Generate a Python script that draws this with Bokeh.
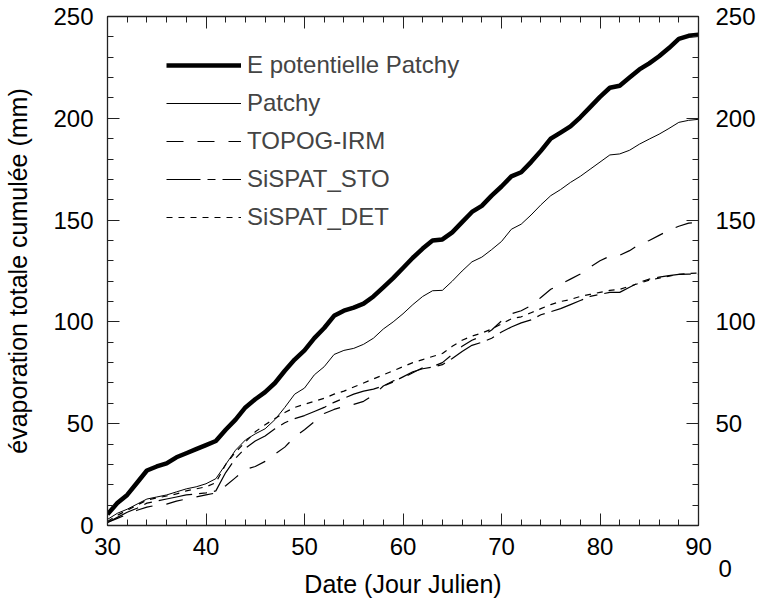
from bokeh.plotting import figure
from bokeh.models import LinearAxis, Range1d, Legend, LegendItem, FixedTicker
from bokeh.embed import file_html
from bokeh.resources import INLINE

days = list(range(30, 91))

e_pot_patchy = [5.5, 11, 15, 21, 27, 29, 30.5, 33.5, 35.5, 37.5,
                39.5, 41.5, 47, 52, 58, 62, 65.5, 70, 76, 81.5,
                86, 92, 97, 103, 105.5, 107, 109, 112.5, 117, 121.5,
                126.5, 131.5, 136, 140, 140.5, 144, 149, 154, 157, 162,
                166.5, 171.5, 173.5, 178.5, 184, 190, 193, 196, 200.5, 205.5,
                210.5, 215, 216, 220, 224, 227, 230.5, 234.5, 239, 240.5, 241]

patchy = [3, 6, 8, 10.5, 13, 14, 15, 16.5, 18, 19,
          20.5, 23, 30, 37, 42, 45, 47.5, 52, 58, 64.5,
          67.5, 74, 78, 84, 86, 87, 89, 92, 96.5, 100,
          104, 108.5, 112.5, 115.3, 115.5, 120, 125, 129.5, 131.8, 135.5,
          139.5, 145.5, 148, 152.5, 157.5, 162, 165, 168.5, 171.5, 175,
          178.5, 182, 182.5, 184.3, 187.3, 189.8, 192.2, 195, 198, 199, 199.5]

topog_irm = [1.5, 3.5, 5.5, 7.5, 9, 10, 10.5, 12, 13, 14,
             15, 16, 19.5, 23.5, 27.5, 29, 31.5, 35, 38.5, 43.5,
             47, 51, 55, 57, 58.5, 59.5, 61, 64, 68.5, 71,
             72.5, 75, 77.5, 78, 80, 84, 88, 91, 93, 96,
             100.5, 104, 105.5, 108, 112, 116, 118.5, 121, 123.5, 127,
             130, 132.3, 132.7, 135, 138, 140, 142.5, 145, 147, 148.5, 149]

sispat_sto = [1.5, 4, 6.5, 8.5, 11, 12, 13, 14, 15, 15.5,
              16, 17, 26, 33, 38, 41.5, 44, 47.5, 50.5, 52.5,
              54, 56, 58, 60.5, 62.5, 64.5, 66, 67, 68.5, 70.5,
              73, 75.5, 77, 77.8, 79, 82, 85.5, 88.5, 90, 92,
              95, 97.5, 99.5, 101, 103.5, 105, 106.5, 108.5, 110.5, 112.5,
              113.5, 114.5, 114.5, 117, 119.5, 121, 122, 122.7, 123.3, 123.5, 123.5]

sispat_det = [2, 5, 7.5, 10, 12.5, 13.5, 14.5, 15.5, 17, 18,
              19, 21, 30, 36, 41, 46, 49.5, 52.5, 55.5, 58,
              59.5, 61, 62.5, 64.5, 66, 68, 70, 72, 74, 76,
              78, 80, 81.5, 83, 84.5, 88, 91, 93, 94.5, 96.5,
              99, 101.5, 102.5, 104.5, 106.5, 108.5, 110, 111, 112.5, 113.5,
              114.5, 115.5, 116, 117.5, 119, 120.5, 121.5, 122.5, 123.3, 123.8, 124]

series_names = ["E potentielle Patchy", "Patchy", "TOPOG-IRM", "SiSPAT_STO", "SiSPAT_DET"]
x_ticks = [30, 40, 50, 60, 70, 80, 90]
y_ticks = [0, 50, 100, 150, 200, 250]

FONT = "Liberation Sans"
FS = "24px"
FS_LABEL = "25px"

p = figure(frame_width=591, frame_height=509, output_backend="svg", toolbar_location=None,
           x_range=Range1d(30, 90), y_range=Range1d(0, 250),
           min_border_left=107, min_border_right=54, min_border_top=16, min_border_bottom=70,
           x_axis_label="Date (Jour Julien)", y_axis_label="évaporation totale cumulée (mm)")
p.outline_line_color = None
p.xgrid.visible = False
p.ygrid.visible = False
p.background_fill_color = "white"
p.border_fill_color = "white"

r0 = p.line(days, e_pot_patchy, line_color="black", line_width=4.5)
r1 = p.line(days, patchy, line_color="black", line_width=1)
r2 = p.line(days, topog_irm, line_color="black", line_width=1.2, line_dash="17 14")
r3 = p.line(days, sispat_sto, line_color="black", line_width=1.2, line_dash="34 7 8 7")
r4 = p.line(days, sispat_det, line_color="black", line_width=1.2, line_dash="6 6")

def style_axis(ax, labels=True):
    ax.axis_line_color = "#222222"
    ax.axis_line_width = 1.3
    ax.major_tick_line_color = "#222222"
    ax.minor_tick_line_color = "#222222"
    ax.major_tick_in = 12
    ax.major_tick_out = 0
    ax.minor_tick_in = 6
    ax.minor_tick_out = 0
    ax.major_label_text_font = FONT
    ax.major_label_text_font_size = FS if labels else "1px"
    ax.major_label_text_color = "black"
    ax.axis_label_text_font = FONT
    ax.axis_label_text_font_size = FS_LABEL
    ax.axis_label_text_font_style = "normal"
    ax.axis_label_text_color = "black"

p.xaxis[0].ticker = FixedTicker(ticks=x_ticks, minor_ticks=list(range(30, 91, 2)))
p.yaxis[0].ticker = FixedTicker(ticks=y_ticks, minor_ticks=list(range(0, 251, 10)))
style_axis(p.xaxis[0])
style_axis(p.yaxis[0])
p.xaxis[0].major_label_standoff = 7
p.xaxis[0].major_label_text_line_height = 0.85
p.xaxis[0].axis_label_standoff = -15
# the right-hand axis' "0" sits below the corner, under and right of "90"
p.xaxis[0].major_label_overrides = {90: "90\n\u2007\u2007\u2007\u00a0\u00a00"}
p.yaxis[0].major_label_standoff = 14
p.yaxis[0].axis_label_standoff = 18

right = LinearAxis(ticker=FixedTicker(ticks=y_ticks, minor_ticks=list(range(0, 251, 10))))
style_axis(right)
right.major_label_standoff = 17
right.major_label_overrides = {0: ""}
p.add_layout(right, "right")

top = LinearAxis(ticker=FixedTicker(ticks=x_ticks, minor_ticks=list(range(30, 91, 2))))
style_axis(top, labels=False)
top.major_label_standoff = 0
top.major_label_overrides = {t: "" for t in x_ticks}
p.add_layout(top, "above")

legend = Legend(items=[LegendItem(label=n, renderers=[r]) for n, r in
                       zip(series_names, [r0, r1, r2, r3, r4])],
                location=(59, 293), orientation="vertical",
                glyph_width=75, glyph_height=30, label_height=30, spacing=8,
                padding=0, margin=0, label_standoff=6,
                label_text_font=FONT, label_text_font_size=FS,
                border_line_color=None, background_fill_alpha=0)
p.add_layout(legend)

open("out.html", "w").write(file_html(p, INLINE))
